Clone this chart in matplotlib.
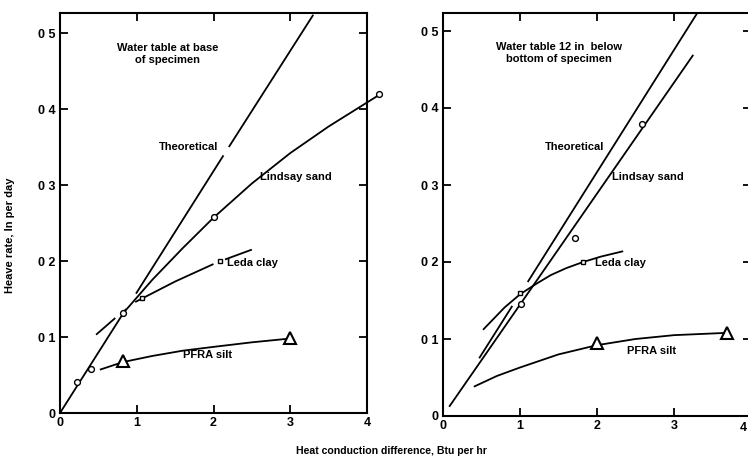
import numpy as np
import matplotlib
matplotlib.use("Agg")
import matplotlib.pyplot as plt

nan = np.nan
FONT = ['Liberation Sans Narrow', 'Liberation Sans', 'DejaVu Sans']
plt.rcParams['font.family'] = FONT
plt.rcParams['font.weight'] = 'bold'

# ---------------- data ----------------
x_ticks = [0, 1, 2, 3, 4]
x_tick_labels = ["0", "1", "2", "3", "4"]
y_ticks = [0, 0.1, 0.2, 0.3, 0.4, 0.5]
y_tick_labels = ["0", "0 1", "0 2", "0 3", "0 4", "0 5"]

# Left panel: water table at base of specimen
L_theo_x = [0, 0.86, nan, 0.99, 2.13, nan, 2.20, 3.30]
L_theo_y = [0, 0.137, nan, 0.157, 0.339, nan, 0.350, 0.524]
L_sand_curve_x = [0.82, 1.2, 1.6, 2.0, 2.5, 3.0, 3.5, 4.15]
L_sand_curve_y = [0.131, 0.175, 0.217, 0.257, 0.302, 0.342, 0.377, 0.418]
L_sand_pts_x = [0.22, 0.41, 0.82, 2.0, 4.15]
L_sand_pts_y = [0.041, 0.058, 0.131, 0.258, 0.420]
L_clay_curve_x = [0.47, 0.72, nan, 0.98, 1.5, 2.0, nan, 2.15, 2.5]
L_clay_curve_y = [0.103, 0.125, nan, 0.146, 0.173, 0.196, nan, 0.202, 0.215]
L_clay_pts_x = [1.07, 2.09]
L_clay_pts_y = [0.151, 0.200]
L_silt_curve_x = [0.52, 0.82, 1.2, 1.6, 2.0, 2.5, 3.0]
L_silt_curve_y = [0.057, 0.067, 0.075, 0.082, 0.087, 0.093, 0.098]
L_silt_pts_x = [0.82, 3.0]
L_silt_pts_y = [0.068, 0.099]

# Right panel: water table 12 in below bottom of specimen
R_theo_x = [0.47, 0.90, nan, 1.10, 3.30]
R_theo_y = [0.075, 0.143, nan, 0.174, 0.523]
R_sand_curve_x = [0.08, 3.25]
R_sand_curve_y = [0.012, 0.469]
R_sand_pts_x = [1.01, 1.71, 2.58]
R_sand_pts_y = [0.145, 0.231, 0.379]
R_clay_curve_x = [0.52, 0.8, 1.0, 1.2, 1.4, 1.6, 1.82, 2.05, 2.34]
R_clay_curve_y = [0.112, 0.141, 0.158, 0.171, 0.183, 0.192, 0.200, 0.207, 0.214]
R_clay_pts_x = [1.0, 1.82]
R_clay_pts_y = [0.160, 0.200]
R_silt_curve_x = [0.40, 0.7, 1.0, 1.5, 2.0, 2.5, 3.0, 3.69]
R_silt_curve_y = [0.038, 0.052, 0.063, 0.080, 0.092, 0.100, 0.105, 0.108]
R_silt_pts_x = [2.0, 3.69]
R_silt_pts_y = [0.095, 0.108]

# ---------------- figure ----------------
W, H = 748, 457
fig = plt.figure(figsize=(W / 100, H / 100), dpi=100)

def px_axes(x0, x1, ytop, ybot):
    return fig.add_axes([x0 / W, (H - ybot) / H, (x1 - x0) / W, (ybot - ytop) / H])

axL = px_axes(60, 367, 13, 413)
axR = px_axes(443, 751, 13, 416)
axL.set_xlim(0, 4); axL.set_ylim(0, 400 / 760)
axR.set_xlim(0, 4); axR.set_ylim(0, 403 / 770)

lw = 1.3
for ax in (axL, axR):
    for s in ax.spines.values():
        s.set_linewidth(1.5)
    ax.set_xticks(x_ticks)
    ax.set_yticks(y_ticks)
    ax.set_yticklabels(y_tick_labels)
    ax.tick_params(direction='in', length=6, width=1.3, top=True, right=True,
                   labelsize=9, pad=3)

axL.set_xticklabels(x_tick_labels)
# right panel: last label placed by hand so that it stays inside the picture
axR.set_xticklabels(x_tick_labels[:-1] + [""])
axR.annotate(x_tick_labels[-1], xy=(x_ticks[-1], 0), xycoords=('data', 'axes fraction'),
             xytext=(-3, -4.2), textcoords='offset points', ha='right', va='top',
             fontsize=9, fontweight='bold')
for ax in (axL, axR):
    for t in ax.get_xticklabels() + ax.get_yticklabels():
        t.set_fontweight('bold')

def draw(ax, cx, cy, px=None, py=None, marker=None, ms=4, mew=1.0):
    ax.plot(cx, cy, color='black', lw=lw, clip_on=False, solid_capstyle='butt')
    if px is not None:
        ax.plot(px, py, linestyle='none', marker=marker, ms=ms, mfc='white',
                mec='black', mew=mew, clip_on=False, zorder=5)

# Left
draw(axL, L_theo_x, L_theo_y)
draw(axL, L_sand_curve_x, L_sand_curve_y, L_sand_pts_x, L_sand_pts_y, 'o', 4.2)
draw(axL, L_clay_curve_x, L_clay_curve_y, L_clay_pts_x, L_clay_pts_y, 's', 3.2)
draw(axL, L_silt_curve_x, L_silt_curve_y, L_silt_pts_x, L_silt_pts_y, '^', 9, 1.5)

# Right
draw(axR, R_theo_x, R_theo_y)
draw(axR, R_sand_curve_x, R_sand_curve_y, R_sand_pts_x, R_sand_pts_y, 'o', 4.2)
draw(axR, R_clay_curve_x, R_clay_curve_y, R_clay_pts_x, R_clay_pts_y, 's', 3.2)
draw(axR, R_silt_curve_x, R_silt_curve_y, R_silt_pts_x, R_silt_pts_y, '^', 9, 1.5)

fs = 8
kw = dict(fontsize=fs, fontweight='bold', va='center')
axL.text(1.40, 0.472, "Water table at base\nof specimen", ha='center', linespacing=1.25, **kw)
axL.text(2.06, 0.350, "Theoretical", ha='right', **kw)
axL.text(2.61, 0.310, "Lindsay sand", ha='left', **kw)
axL.text(2.18, 0.197, "Leda clay", ha='left', **kw)
axL.text(1.60, 0.076, "PFRA silt", ha='left', **kw)

axR.text(1.51, 0.471, "Water table 12 in  below\nbottom of specimen", ha='center', linespacing=1.25, **kw)
axR.text(2.09, 0.349, "Theoretical", ha='right', **kw)
axR.text(2.20, 0.310, "Lindsay sand", ha='left', **kw)
axR.text(1.97, 0.199, "Leda clay", ha='left', **kw)
axR.text(2.39, 0.084, "PFRA silt", ha='left', **kw)

fig.text(10 / W, (H - 235) / H, "Heave rate, In per day", rotation=90,
         ha='center', va='center', fontsize=fs, fontweight='bold')
fig.text(391 / W, (H - 451) / H, "Heat conduction difference, Btu per hr",
         ha='center', va='center', fontsize=7.6, fontweight='bold')

fig.savefig("out.png", dpi=100)
